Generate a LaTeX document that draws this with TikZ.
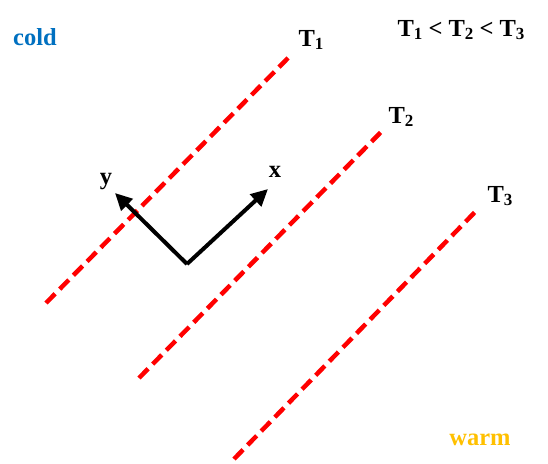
\documentclass[tikz,border=0pt]{standalone}
\usepackage{fontspec}
\setmainfont{Liberation Serif}
\usetikzlibrary{arrows.meta,positioning}
\definecolor{coldblue}{HTML}{0070C0}
\definecolor{warmgold}{HTML}{FFC000}
\definecolor{isored}{HTML}{FF0000}
\newcommand{\sub}[1]{\raisebox{-0.3ex}{\fontsize{17}{20}\selectfont #1}}
\tikzset{
  isoline/.style={draw=isored, line width=4.5pt, dash pattern=on 13pt off 6.5pt},
  axisarrow/.style={-{Triangle[length=17pt,width=16pt]}, line width=4pt, draw=black},
  isolabel/.style={font=\bfseries\fontsize{24.5}{28}\selectfont, inner sep=0pt},
  sidelabel/.style={isolabel}
}
\begin{document}
\begin{tikzpicture}[x=1pt,y=-1pt]
  \useasboundingbox (0,0) rectangle (548,463);
  % isotherms
  \coordinate (a1) at (46,303);  \coordinate (b1) at (291,55);
  \coordinate (a2) at (139,378); \coordinate (b2) at (383,130);
  \coordinate (a3) at (234,459); \coordinate (b3) at (476,211);
  \draw[isoline] (a1) -- (b1);
  \draw[isoline] (a2) -- (b2);
  \draw[isoline] (a3) -- (b3);
  \node[isolabel] (t1) at (311,40) {T\sub{1}};
  \node[isolabel] (t2) at (401,117) {T\sub{2}};
  \node[isolabel] (t3) at (500,196) {T\sub{3}};
  % axes
  \coordinate (o) at (187,264);
  \coordinate (xe) at (268,189);
  \coordinate (ye) at (115,193);
  \draw[axisarrow] (o) -- (xe);
  \draw[axisarrow] (o) -- (ye);
  \node[isolabel] (xl) at (275,172) {x};
  \node[isolabel] (yl) at (106,182) {y};
  % side labels
  \node[sidelabel, text=coldblue] (cold) at (35,37) {cold};
  \node[sidelabel, text=warmgold] (warm) at (480,440) {warm};
  \node[isolabel] (order) at (461,30) {T\sub{1} < T\sub{2} < T\sub{3}};
\end{tikzpicture}
\end{document}
